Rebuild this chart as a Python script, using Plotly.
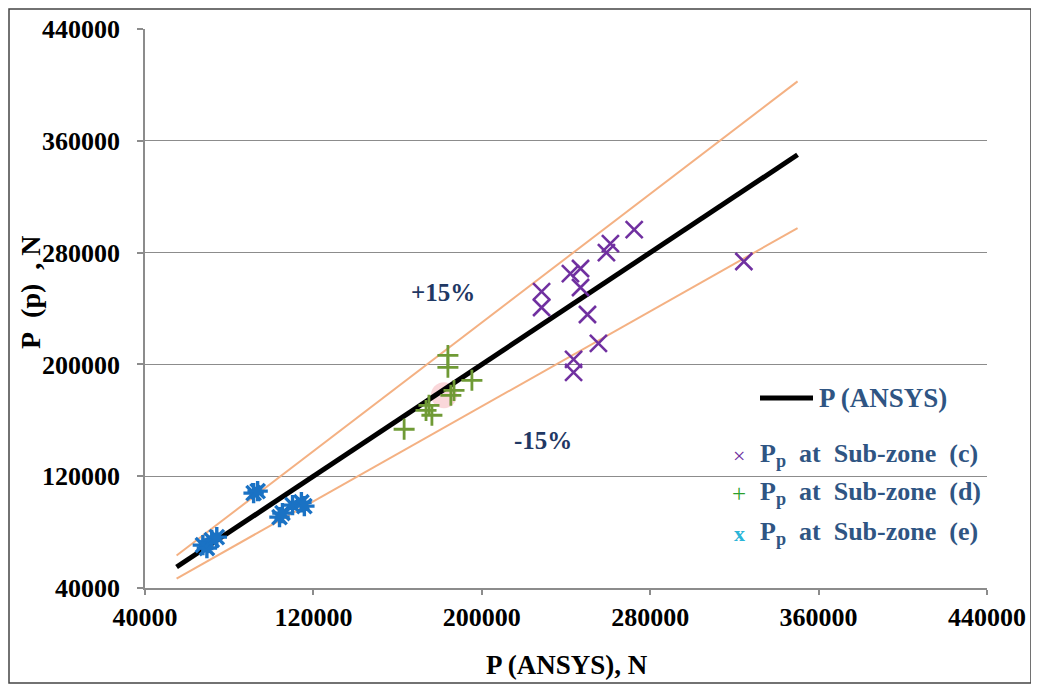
import plotly.graph_objects as go

# ---------------- data ----------------
ansys_x = [55000, 350000]
ansys_y = [55000, 350000]
plus15_y = [63250, 402500]
minus15_y = [46750, 297500]

zone_c_x = [272400, 261100, 259200, 324500, 242100, 246900, 246900, 228400, 228400, 250200, 255400, 243600, 243600]
zone_c_y = [296400, 286400, 280000, 273600, 265000, 268600, 255000, 252100, 240700, 235700, 215000, 203600, 194300]

zone_d_x = [183900, 183900, 195300, 186800, 185300, 174900, 176300, 173500, 163100]
zone_d_y = [206400, 197900, 188600, 181400, 177900, 170700, 163600, 167100, 153600]

zone_e_x = [91600, 93500, 103900, 105300, 110100, 114300, 115700, 67500, 69400, 71700, 74100]
zone_e_y = [107900, 109300, 90700, 93600, 99300, 101400, 98600, 70700, 68600, 74300, 76400]

highlight_x = [182000]
highlight_y = [177900]

tick_vals = [40000, 120000, 200000, 280000, 360000, 440000]
tick_text = ["40000", "120000", "200000", "280000", "360000", "440000"]

FONT = "Liberation Serif"
NAVY = "#1f3864"
LEG = "#2f5583"
C_COL = "#7030a0"
D_COL = "#6f9a35"
E_COL = "#1a72c4"

fig = go.Figure()

fig.add_trace(go.Scatter(x=ansys_x, y=plus15_y, mode="lines",
                         line=dict(color="#f4b183", width=2), showlegend=False, hoverinfo="skip"))
fig.add_trace(go.Scatter(x=ansys_x, y=minus15_y, mode="lines",
                         line=dict(color="#f4b183", width=2), showlegend=False, hoverinfo="skip"))
fig.add_trace(go.Scatter(x=highlight_x, y=highlight_y, mode="markers",
                         marker=dict(color="rgba(240,140,150,0.35)", size=26,
                                     line=dict(width=0)), showlegend=False))
fig.add_trace(go.Scatter(x=ansys_x, y=ansys_y, mode="lines",
                         line=dict(color="black", width=5), showlegend=False))
fig.add_trace(go.Scatter(x=zone_c_x, y=zone_c_y, mode="markers", showlegend=False,
                         marker=dict(symbol="x-thin-open", size=17, color=C_COL,
                                     line=dict(color=C_COL, width=2.6))))
fig.add_trace(go.Scatter(x=zone_d_x, y=zone_d_y, mode="markers", showlegend=False,
                         marker=dict(symbol="cross-thin-open", size=15, color=D_COL,
                                     line=dict(color=D_COL, width=2.8))))
fig.add_trace(go.Scatter(x=zone_e_x, y=zone_e_y, mode="markers", showlegend=False,
                         marker=dict(symbol="asterisk-open", size=17, color=E_COL,
                                     line=dict(color=E_COL, width=3.4))))

# positions are given in screenshot pixels; the page adds an 8 px body margin,
# which cancels out in paper coordinates relative to the plot area
def px_x(p):
    return (p - 145) / 842

def px_y(p):
    return (588 - p) / 559

shapes = [
    dict(type="line", xref="paper", yref="paper", x0=px_x(760), x1=px_x(813),
         y0=px_y(398), y1=px_y(398), line=dict(color="black", width=5)),
    dict(type="rect", xref="paper", yref="paper", x0=px_x(9), x1=px_x(1031),
         y0=px_y(683), y1=px_y(9), line=dict(color="#444444", width=1.5)),
]

ann = []
ann.append(dict(xref="paper", yref="paper", x=px_x(817), y=px_y(398), xanchor="left", yanchor="middle",
                text="<b>P (ANSYS)</b>", showarrow=False, font=dict(family=FONT, size=27, color=LEG)))
leg_items = [
    ("×", "#7030a0", 455, "(c)", 22),
    ("+", "#2ca02c", 493, "(d)", 25),
    ("<b>x</b>", "#2bb5d8", 533, "(e)", 22),
]
for sym, col, yy, lab, sz in leg_items:
    ann.append(dict(xref="paper", yref="paper", x=px_x(739), y=px_y(yy), xanchor="center", yanchor="middle",
                    text=sym, showarrow=False, font=dict(family=FONT, size=sz, color=col)))
    ann.append(dict(xref="paper", yref="paper", x=px_x(758), y=px_y(yy), xanchor="left", yanchor="middle",
                    text="<b>P<sub>p</sub>  at  Sub-zone  " + lab + "</b>", showarrow=False,
                    font=dict(family=FONT, size=26, color=LEG)))

ann.append(dict(x=181600, y=251800, xref="x", yref="y", text="<b>+15%</b>", showarrow=False,
                font=dict(family=FONT, size=25, color=NAVY)))
ann.append(dict(x=229100, y=145900, xref="x", yref="y", text="<b>-15%</b>", showarrow=False,
                font=dict(family=FONT, size=25, color=NAVY)))

ann.append(dict(xref="paper", yref="paper", x=px_x(567), y=px_y(665), xanchor="center", yanchor="middle",
                text="<b>P (ANSYS), N</b>", showarrow=False, font=dict(family=FONT, size=27, color="black")))
ann.append(dict(xref="paper", yref="paper", x=px_x(30), y=px_y(292), xanchor="center", yanchor="middle",
                text="<b>P&nbsp;&nbsp;(p)&nbsp;&nbsp;,&nbsp;N</b>", textangle=-90, showarrow=False,
                font=dict(family=FONT, size=28, color="black")))

fig.update_layout(
    template="none",
    width=1039, height=686,
    margin=dict(l=137, r=60, t=21, b=106, autoexpand=False),
    paper_bgcolor="white", plot_bgcolor="white",
    shapes=shapes, annotations=ann, showlegend=False,
    xaxis=dict(range=[40000, 440000], tickvals=tick_vals, ticktext=tick_text, automargin=False,
               showgrid=False, zeroline=False, showline=True, linecolor="#8c8c8c", linewidth=1.5,
               ticks="outside", ticklen=5, tickcolor="#8c8c8c", tickwidth=1.5, ticklabelstandoff=0,
               tickfont=dict(family=FONT, size=26, color="black", weight="bold")),
    yaxis=dict(range=[40000, 440000], tickvals=tick_vals, ticktext=tick_text, automargin=False,
               showgrid=True, gridcolor="#8c8c8c", gridwidth=1.3, zeroline=False,
               showline=True, linecolor="#8c8c8c", linewidth=1.5,
               ticks="outside", ticklen=6, tickcolor="#8c8c8c", tickwidth=1.5, ticklabelstandoff=12,
               tickfont=dict(family=FONT, size=26, color="black", weight="bold")),
)

fig.write_html("out.html")
